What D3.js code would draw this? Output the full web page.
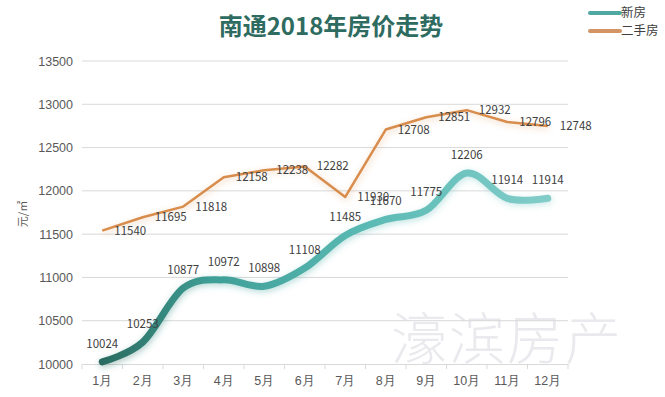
<!DOCTYPE html>
<html>
<head>
<meta charset="utf-8">
<script src="https://cdn.jsdelivr.net/npm/d3@7"></script>
<style>
  body { margin: 0; background: #fff; }
  svg { display: block; font-family: 'Noto Sans CJK SC', 'Noto Sans', sans-serif; }
  .axis text { fill: #595959; font-size: 12.5px; }
  .lbl { fill: #404040; font-size: 11.5px; }
</style>
</head>
<body>
<svg id="chart"></svg>
<script>
const width = 665
const height = 397

const months = ['1月', '2月', '3月', '4月', '5月', '6月', '7月', '8月', '9月', '10月', '11月', '12月']
const newHomes = [10024, 10253, 10877, 10972, 10898, 11108, 11485, 11670, 11775, 12206, 11914, 11914]
const resale = [11540, 11695, 11818, 12158, 12238, 12282, 11930, 12708, 12851, 12932, 12796, 12748]
const yTicks = [10000, 10500, 11000, 11500, 12000, 12500, 13000, 13500]

const plot = { left: 82, right: 568, top: 61, bottom: 364 }

const svg = d3.select('#chart').attr('width', width).attr('height', height)

const defs = svg.append('defs')
const grad = defs.append('linearGradient')
  .attr('id', 'tealGrad')
  .attr('gradientUnits', 'userSpaceOnUse')
  .attr('x1', 100).attr('x2', 550).attr('y1', 0).attr('y2', 0)
grad.append('stop').attr('offset', '0%').attr('stop-color', '#2a6a5f')
grad.append('stop').attr('offset', '25%').attr('stop-color', '#3f9f97')
grad.append('stop').attr('offset', '60%').attr('stop-color', '#5bbab4')
grad.append('stop').attr('offset', '100%').attr('stop-color', '#82cdca')

const glow = defs.append('filter').attr('id', 'glow')
  .attr('x', '-10%').attr('y', '-20%').attr('width', '120%').attr('height', '140%')
glow.append('feGaussianBlur').attr('in', 'SourceGraphic').attr('stdDeviation', 3).attr('result', 'b')
glow.append('feColorMatrix').attr('in', 'b').attr('type', 'matrix')
  .attr('values', '1 0 0 0 0  0 1 0 0 0  0 0 1 0 0  0 0 0 0.4 0').attr('result', 'bb')
glow.append('feOffset').attr('in', 'bb').attr('dx', 1).attr('dy', 2).attr('result', 'o')
const merge = glow.append('feMerge')
merge.append('feMergeNode').attr('in', 'o')
merge.append('feMergeNode').attr('in', 'SourceGraphic')

const x = d3.scaleBand().domain(months).range([plot.left, plot.right])
const cx = (d, i) => x(months[i]) + x.bandwidth() / 2
const y = d3.scaleLinear().domain([10000, 13500]).range([plot.bottom, plot.top])

// watermark
svg.append('text')
  .attr('x', 507).attr('y', 359)
  .attr('text-anchor', 'middle')
  .style('font-size', '56px')
  .style('font-weight', 300)
  .style('letter-spacing', '2px')
  .style('fill', '#eaeaee')
  .text('濠滨房产')

// grid
svg.append('g')
  .selectAll('line')
  .data(yTicks.slice(1))
  .join('line')
  .attr('x1', plot.left).attr('x2', plot.right)
  .attr('y1', d => y(d)).attr('y2', d => y(d))
  .attr('stroke', '#d9d9d9')
  .attr('stroke-width', 1)

// y axis labels
const yAxis = svg.append('g')
  .attr('class', 'axis')
  .attr('transform', `translate(${plot.left},0)`)
  .call(d3.axisLeft(y).tickValues(yTicks).tickSize(0).tickPadding(9).tickFormat(d3.format('d')))
yAxis.select('.domain').remove()

// x axis
const xAxis = svg.append('g')
  .attr('class', 'axis')
  .attr('transform', `translate(0,${plot.bottom})`)
  .call(d3.axisBottom(x).tickSize(0).tickPadding(10))
xAxis.select('.domain').attr('stroke', '#d9d9d9')
xAxis.selectAll('.tick text').attr('dy', '0.85em')
svg.append('g')
  .selectAll('line')
  .data(d3.range(months.length + 1))
  .join('line')
  .attr('x1', i => plot.left + i * x.bandwidth())
  .attr('x2', i => plot.left + i * x.bandwidth())
  .attr('y1', plot.bottom).attr('y2', plot.bottom + 5)
  .attr('stroke', '#d9d9d9')

// y title
svg.append('text')
  .attr('transform', 'translate(27,214) rotate(-90)')
  .attr('text-anchor', 'middle')
  .style('font-size', '11px')
  .style('fill', '#595959')
  .text('元/㎡')

// resale line (straight)
const straight = d3.line().x(cx).y(d => y(d))
svg.append('path')
  .datum(resale)
  .attr('d', straight)
  .attr('fill', 'none')
  .attr('stroke', '#d98d4d')
  .attr('stroke-width', 2.5)
  .attr('stroke-linejoin', 'round')
  .attr('filter', 'url(#glow)')

// new homes line (smooth)
const smooth = d3.line().x(cx).y(d => y(d)).curve(d3.curveCardinal.tension(0))
svg.append('path')
  .datum(newHomes)
  .attr('d', smooth)
  .attr('fill', 'none')
  .attr('stroke', 'url(#tealGrad)')
  .attr('stroke-width', 7)
  .attr('stroke-linecap', 'round')
  .attr('filter', 'url(#glow)')

// labels
svg.append('g')
  .selectAll('text')
  .data(resale)
  .join('text')
  .attr('class', 'lbl')
  .attr('x', (d, i) => cx(d, i) + 12)
  .attr('y', d => y(d))
  .attr('dy', '0.35em')
  .text(d => d)

svg.append('g')
  .selectAll('text')
  .data(newHomes)
  .join('text')
  .attr('class', 'lbl')
  .attr('text-anchor', 'middle')
  .attr('x', cx)
  .attr('y', d => y(d) - 18)
  .attr('dy', '0.35em')
  .text(d => d)

// title
svg.append('text')
  .attr('x', 331).attr('y', 35)
  .attr('text-anchor', 'middle')
  .style('font-size', '24px')
  .style('font-weight', 'bold')
  .style('fill', '#2e6b60')
  .text('南通2018年房价走势')

// legend
const legend = svg.append('g').attr('transform', 'translate(590,0)')
const legendItems = [
  { name: '新房', color: '#4fa8a2', y: 13 },
  { name: '二手房', color: '#d39466', y: 31 },
]
legend.selectAll('line')
  .data(legendItems)
  .join('line')
  .attr('x1', 0).attr('x2', 30)
  .attr('y1', d => d.y).attr('y2', d => d.y)
  .attr('stroke', d => d.color)
  .attr('stroke-width', 4)
  .attr('stroke-linecap', 'round')
legend.selectAll('text')
  .data(legendItems)
  .join('text')
  .attr('x', 31).attr('y', d => d.y)
  .attr('dy', '0.35em')
  .style('font-size', '12.5px')
  .style('fill', '#404040')
  .text(d => d.name)
</script>
</body>
</html>
